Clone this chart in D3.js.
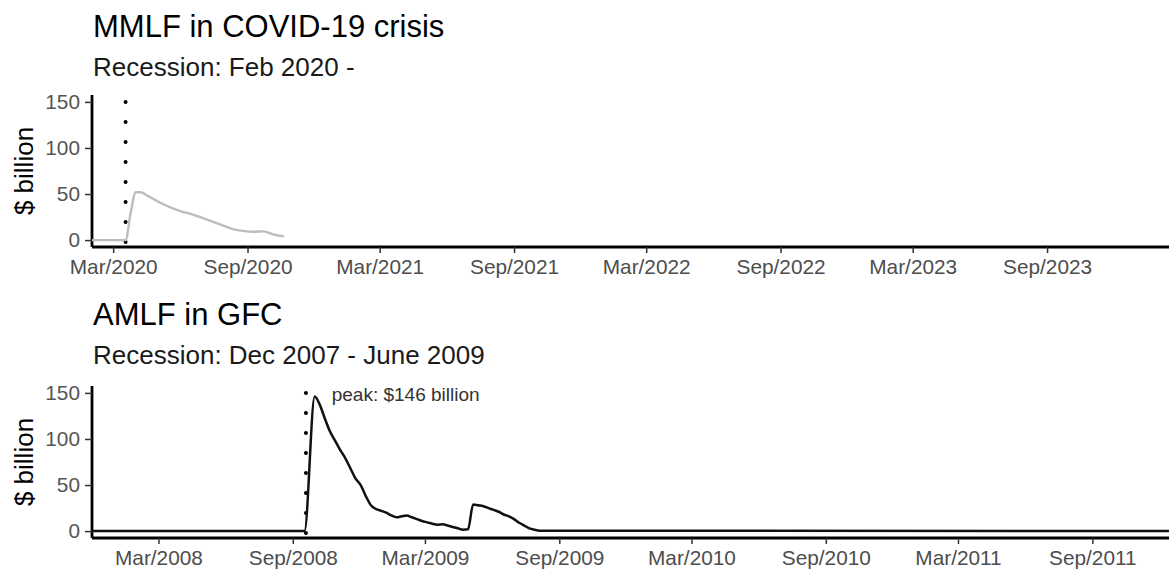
<!DOCTYPE html>
<html>
<head>
<meta charset="utf-8">
<script src="https://cdn.jsdelivr.net/npm/d3@7"></script>
<style>
  html, body { margin: 0; padding: 0; background: #fff; }
  svg { display: block; font-family: "Liberation Sans", Arial, Helvetica, sans-serif; }
</style>
</head>
<body>
<svg id="chart" width="1169" height="569"></svg>
<script>
// ---------- data ----------
const covidTitle = "MMLF in COVID-19 crisis";
const covidSubtitle = "Recession: Feb 2020 -";
const covidDomain = ["2020-02-01", "2024-02-15"];
const covidVline = "2020-03-18";
const covidDates = ["2020-02-01","2020-03-18","2020-03-25","2020-04-01","2020-04-08","2020-04-15","2020-04-22",
  "2020-05-06","2020-05-20","2020-06-03","2020-06-17","2020-07-01","2020-07-15","2020-07-29",
  "2020-08-12","2020-08-26","2020-09-09","2020-09-23","2020-10-07","2020-10-21"];
const covidValues = [0,0,30,52,52,49,46,40,35,31,28,24,20,16,12,10,9,9.5,6,4];
const covidTicks = ["2020-03-01","2020-09-01","2021-03-01","2021-09-01","2022-03-01","2022-09-01","2023-03-01","2023-09-01"];

const gfcTitle = "AMLF in GFC";
const gfcSubtitle = "Recession: Dec 2007 - June 2009";
const gfcDomain = ["2007-12-01", "2011-12-15"];
const gfcVline = "2008-09-19";
const gfcDates = ["2007-12-01","2008-09-17","2008-10-01","2008-10-08","2008-10-15","2008-10-22","2008-10-29",
  "2008-11-05","2008-11-12","2008-11-19","2008-11-26","2008-12-03","2008-12-10","2008-12-17","2008-12-24",
  "2008-12-31","2009-01-07","2009-01-14","2009-01-21","2009-01-28","2009-02-04","2009-02-11","2009-02-18",
  "2009-02-25","2009-03-04","2009-03-11","2009-03-18","2009-03-25","2009-04-01","2009-04-08","2009-04-15",
  "2009-04-22","2009-04-29","2009-05-06","2009-05-13","2009-05-20","2009-05-27","2009-06-03","2009-06-10",
  "2009-06-17","2009-06-24","2009-07-01","2009-07-08","2009-07-15","2009-07-22","2009-07-29","2009-08-05",
  "2011-12-15"];
const gfcValues = [0,0,146,137,122,108,98,88,79,68,57,50,38,28,24,22,20,17,15,16,17,15,13,11,9.5,8,7,7.5,6,4.5,3,
  1.5,2,29,28,27,25,23,21,18,16,13,9,6,3,1.5,0.5,0];
const gfcTicks = ["2008-03-01","2008-09-01","2009-03-01","2009-09-01","2010-03-01","2010-09-01","2011-03-01","2011-09-01"];
const gfcPeakLabel = "peak: $146 billion";

const yTicks = [0, 50, 100, 150];
const yDomain = [-7.5, 157.5];
const yTitle = "$ billion";

// ---------- drawing ----------
const parse = d3.timeParse("%Y-%m-%d");
const fmt = d3.timeFormat("%b/%Y");
const svg = d3.select("#chart");

function panel(opts) {
  const g = svg.append("g");
  const x = d3.scaleTime().domain(opts.domain.map(parse)).range([92, 1169]);
  const y = d3.scaleLinear().domain(yDomain).range([opts.bottom, opts.bottom - 152]);

  g.append("text").attr("x", 93).attr("y", opts.titleY)
    .attr("font-size", 31).attr("fill", "#000").text(opts.title);
  g.append("text").attr("x", 93).attr("y", opts.titleY + 39)
    .attr("font-size", 26).attr("fill", "#1a1a1a").text(opts.subtitle);

  // axes
  const xAxis = d3.axisBottom(x).tickValues(opts.ticks.map(parse)).tickFormat(fmt)
    .tickSize(6).tickPadding(6);
  const gx = g.append("g").attr("transform", `translate(0,${opts.bottom})`).call(xAxis);
  gx.select(".domain").attr("stroke", "#000").attr("stroke-width", 2.8).attr("d", `M92,0H1169`);
  gx.selectAll(".tick line").attr("stroke", "#333").attr("stroke-width", 1.5);
  gx.selectAll(".tick text").attr("font-size", 20.8).attr("fill", "#4d4d4d")
    .attr("font-family", "Liberation Sans, Arial, sans-serif");

  const yAxis = d3.axisLeft(y).tickValues(yTicks).tickSize(7).tickPadding(5);
  const gy = g.append("g").attr("transform", `translate(92,0)`).call(yAxis);
  gy.select(".domain").attr("stroke", "#000").attr("stroke-width", 2.8)
    .attr("d", `M0,${y.range()[0]}V${y.range()[1]}`);
  gy.selectAll(".tick line").attr("stroke", "#333").attr("stroke-width", 1.5);
  gy.selectAll(".tick text").attr("font-size", 20.8).attr("fill", "#555")
    .attr("font-family", "Liberation Sans, Arial, sans-serif");

  g.append("text")
    .attr("transform", `translate(33,${(y.range()[0] + y.range()[1]) / 2}) rotate(-90)`)
    .attr("text-anchor", "middle").attr("font-size", 26).attr("fill", "#000").text(yTitle);

  // dotted vertical line
  const vx = x(parse(opts.vline));
  g.append("line").attr("x1", vx).attr("x2", vx).attr("y1", y(150)).attr("y2", y(-3))
    .attr("stroke", "#000").attr("stroke-width", 4).attr("stroke-linecap", "round")
    .attr("stroke-dasharray", "0,20");

  // data line
  const pts = opts.dates.map((d, i) => [parse(d), opts.values[i]]);
  const line = d3.line().x(d => x(d[0])).y(d => y(d[1])).curve(d3.curveMonotoneX);
  g.append("path").datum(pts).attr("d", line).attr("fill", "none")
    .attr("stroke", opts.color).attr("stroke-width", opts.width).attr("stroke-linejoin", "round");

  return { g, x, y };
}

panel({ title: covidTitle, subtitle: covidSubtitle, domain: covidDomain, ticks: covidTicks,
  dates: covidDates, values: covidValues, vline: covidVline, bottom: 247, titleY: 37, color: "#bdbdbd", width: 2.4 });

const p2 = panel({ title: gfcTitle, subtitle: gfcSubtitle, domain: gfcDomain, ticks: gfcTicks,
  dates: gfcDates, values: gfcValues, vline: gfcVline, bottom: 538, titleY: 325, color: "#111", width: 2.5 });

// peak annotation
const peakIdx = gfcValues.indexOf(d3.max(gfcValues));
p2.g.append("text")
  .attr("x", p2.x(parse(gfcDates[peakIdx])) + 17)
  .attr("y", p2.y(gfcValues[peakIdx]) + 4)
  .attr("font-size", 19).attr("fill", "#333").text(gfcPeakLabel);
</script>
</body>
</html>
